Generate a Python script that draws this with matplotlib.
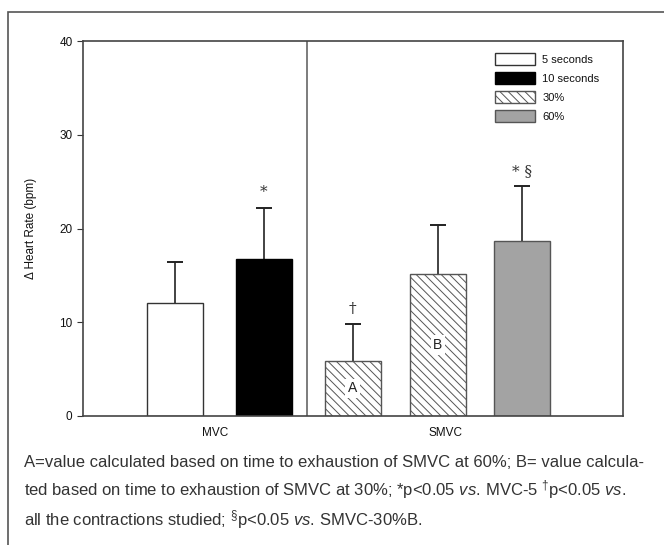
import matplotlib
matplotlib.use("Agg")
import matplotlib.pyplot as plt
from matplotlib.patches import Rectangle

# Data
labels = ["5 seconds", "10 seconds", "30%", "60%"]
positions = [1.03, 2.03, 3.03, 3.99, 4.94]
means = [12.1, 16.7, 5.9, 15.2, 18.7]
errors = [4.3, 5.5, 3.9, 5.2, 5.8]
groups = ["MVC", "SMVC"]
group_pos = [1.48, 4.07]
marks = ["*", "\u2020", "* \u00a7"]
mark_idx = [1, 2, 4]
bar_text = ["A", "B"]
bar_text_idx = [2, 3]

plt.rcParams["font.family"] = ["Liberation Sans", "DejaVu Sans"]
plt.rcParams["mathtext.fontset"] = "custom"
plt.rcParams["mathtext.rm"] = "Liberation Sans"
plt.rcParams["mathtext.it"] = "Liberation Sans:italic"
plt.rcParams["hatch.linewidth"] = 0.7
plt.rcParams["hatch.color"] = "#555555"

fig = plt.figure(figsize=(6.64, 5.45), dpi=100)

# outer frame of the figure panel
fig.patches.append(Rectangle((8 / 664, -0.01), 1.0, 1 - 12 / 545 + 0.01,
                             transform=fig.transFigure, fill=False,
                             edgecolor="#555555", linewidth=1.2))

ax = fig.add_axes([83 / 664, 1 - 416 / 545, 540 / 664, 375 / 545])

hatch = "\\" * 4
styles = [
    dict(color="white", edgecolor="#333333"),
    dict(color="black", edgecolor="black"),
    dict(color="white", edgecolor="#555555", hatch=hatch),
    dict(color="white", edgecolor="#555555", hatch=hatch),
    dict(color="#a3a3a3", edgecolor="#555555"),
]
handles = []
for i, (x, m, e) in enumerate(zip(positions, means, errors)):
    b = ax.bar(x, m, width=0.63, linewidth=1.0, zorder=2, **styles[i])
    eb = ax.errorbar(x, m, yerr=[[0], [e]], color="#222222", capsize=6,
                     elinewidth=1.2, capthick=1.4, zorder=1)
    eb[1][0].set_visible(False)  # no cap at the bar top
    if i != 3:
        handles.append(b)

for t, i in zip(marks, mark_idx):
    ax.text(positions[i], means[i] + errors[i] + 0.9, t, ha="center",
            va="bottom", fontsize=11, color="#333333",
            family=["DejaVu Serif"])

for t, i in zip(bar_text, bar_text_idx):
    ax.text(positions[i], means[i] / 2, t, ha="center", va="center",
            fontsize=10, color="#222222",
            bbox=dict(facecolor="white", edgecolor="none", pad=2))

ax.axvline(2.52, color="#666666", linewidth=1.2)

ax.set_xlim(0, 6.07)
ax.set_ylim(0, 40)
ax.set_yticks([0, 10, 20, 30, 40])
ax.tick_params(axis="y", labelsize=8.5, length=4, color="#333333",
               labelcolor="#111111")
ax.set_xticks(group_pos)
ax.set_xticklabels(groups, fontsize=8.5, color="#111111")
ax.tick_params(axis="x", length=0, pad=8)
ax.set_ylabel("\u0394 Heart Rate (bpm)", fontsize=8.5, labelpad=16,
              color="#111111")
for s in ax.spines.values():
    s.set_color("#444444")
    s.set_linewidth(1.2)

leg = ax.legend(handles, labels, loc="upper right",
                bbox_to_anchor=(0.975, 0.995), frameon=False, fontsize=8,
                handlelength=3.6, handleheight=1.3, labelspacing=0.62,
                handletextpad=0.7)
for t in leg.get_texts():
    t.set_color("#111111")

caption = ("A=value calculated based on time to exhaustion of SMVC at 60%; B= value calcula-\n"
           "ted based on time to exhaustion of SMVC at 30%; *p<0.05 $\\it{vs.}\\,$MVC-5 $^{\u2020}$p<0.05 $\\it{vs.}$\n"
           "all the contractions studied; $^{\u00a7}$p<0.05 $\\it{vs.}\\,$SMVC-30%B.")
fig.text(24 / 664, 1 - 455 / 545, caption, ha="left", va="top",
         fontsize=12, color="#333333", linespacing=1.45)

fig.savefig("out.png", dpi=100)
